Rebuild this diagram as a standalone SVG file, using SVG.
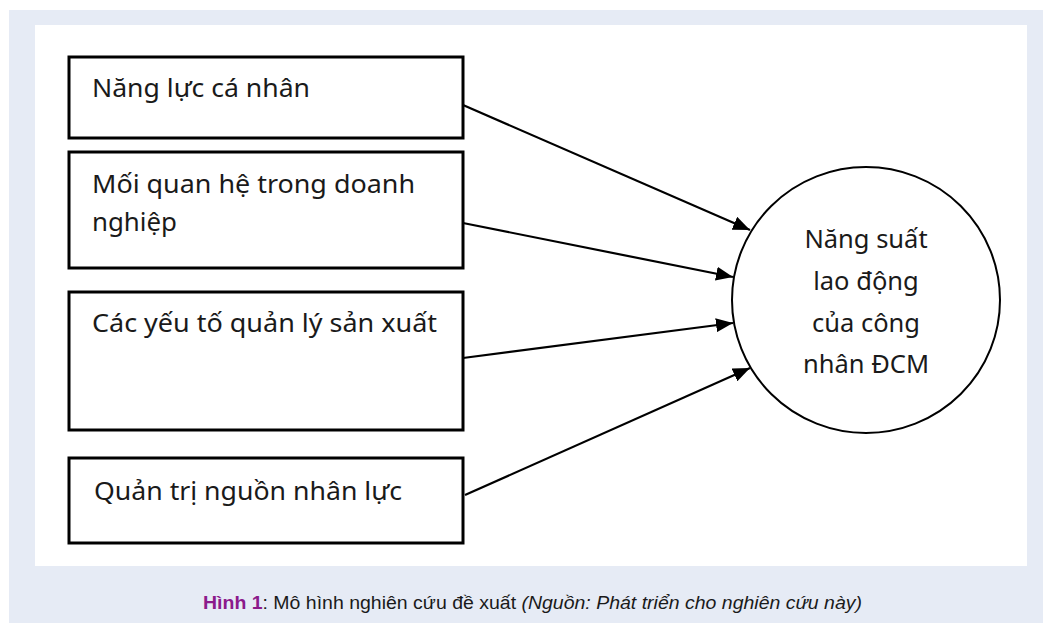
<svg xmlns="http://www.w3.org/2000/svg" width="1043" height="623" viewBox="0 0 1043 623">
<defs>
<style>
.box{fill:#fff;stroke:#000;stroke-width:3}
.t{font-family:"Noto Sans","Open Sans",sans-serif;font-size:25px;fill:#1a1a1a}
.c{font-family:"Noto Sans","Open Sans",sans-serif;font-size:25.5px;fill:#1a1a1a;text-anchor:middle}
.conn{stroke:#000;stroke-width:2.2;fill:none;marker-end:url(#ah)}
.cap{font-family:"Liberation Sans",Arial,sans-serif;font-size:18px;fill:#1a1a1a}
</style>
<marker id="ah" markerUnits="userSpaceOnUse" markerWidth="18" markerHeight="14" refX="17" refY="7" orient="auto">
<path d="M0,0 L17,7 L0,14 Z" fill="#000"/>
</marker>
</defs>
<rect x="0" y="0" width="1043" height="623" fill="#fff"/>
<rect x="9" y="10" width="1034" height="613" fill="#e6ebf5"/>
<rect x="35" y="25" width="992" height="541" fill="#fff"/>
<g id="node1">
<rect class="box" x="69" y="57" width="394" height="81"/>
<text class="t" x="92" y="97" textLength="218" lengthAdjust="spacingAndGlyphs">Năng lực cá nhân</text>
</g>
<g id="node2">
<rect class="box" x="69" y="152" width="394" height="116"/>
<text class="t" x="92" y="193" textLength="323" lengthAdjust="spacingAndGlyphs">Mối quan hệ trong doanh</text>
<text class="t" x="92" y="231" textLength="85" lengthAdjust="spacingAndGlyphs">nghiệp</text>
</g>
<g id="node3">
<rect class="box" x="69" y="292" width="394" height="138"/>
<text class="t" x="92" y="332" textLength="345" lengthAdjust="spacingAndGlyphs">Các yếu tố quản lý sản xuất</text>
</g>
<g id="node4">
<rect class="box" x="69" y="458" width="394" height="85"/>
<text class="t" x="94" y="500" textLength="308" lengthAdjust="spacingAndGlyphs">Quản trị nguồn nhân lực</text>
</g>
<g id="node5">
<ellipse cx="866" cy="300" rx="134" ry="133" fill="#fff" stroke="#000" stroke-width="2"/>
<text class="c" x="866" y="248">Năng suất</text>
<text class="c" x="866" y="290">lao động</text>
<text class="c" x="866" y="332">của công</text>
<text class="c" x="866" y="373">nhân ĐCM</text>
</g>
<g id="connectors">
<line class="conn" x1="463" y1="105" x2="750" y2="230"/>
<line class="conn" x1="463" y1="223" x2="733" y2="277"/>
<line class="conn" x1="463" y1="358" x2="733" y2="323"/>
<line class="conn" x1="465" y1="495" x2="750" y2="368"/>
</g>
<text class="cap" x="203" y="609" textLength="659" lengthAdjust="spacingAndGlyphs"><tspan fill="#8b1a8b" font-weight="bold">Hình 1</tspan>: Mô hình nghiên cứu đề xuất <tspan font-style="italic">(Nguồn: Phát triển cho nghiên cứu này)</tspan></text>
</svg>
